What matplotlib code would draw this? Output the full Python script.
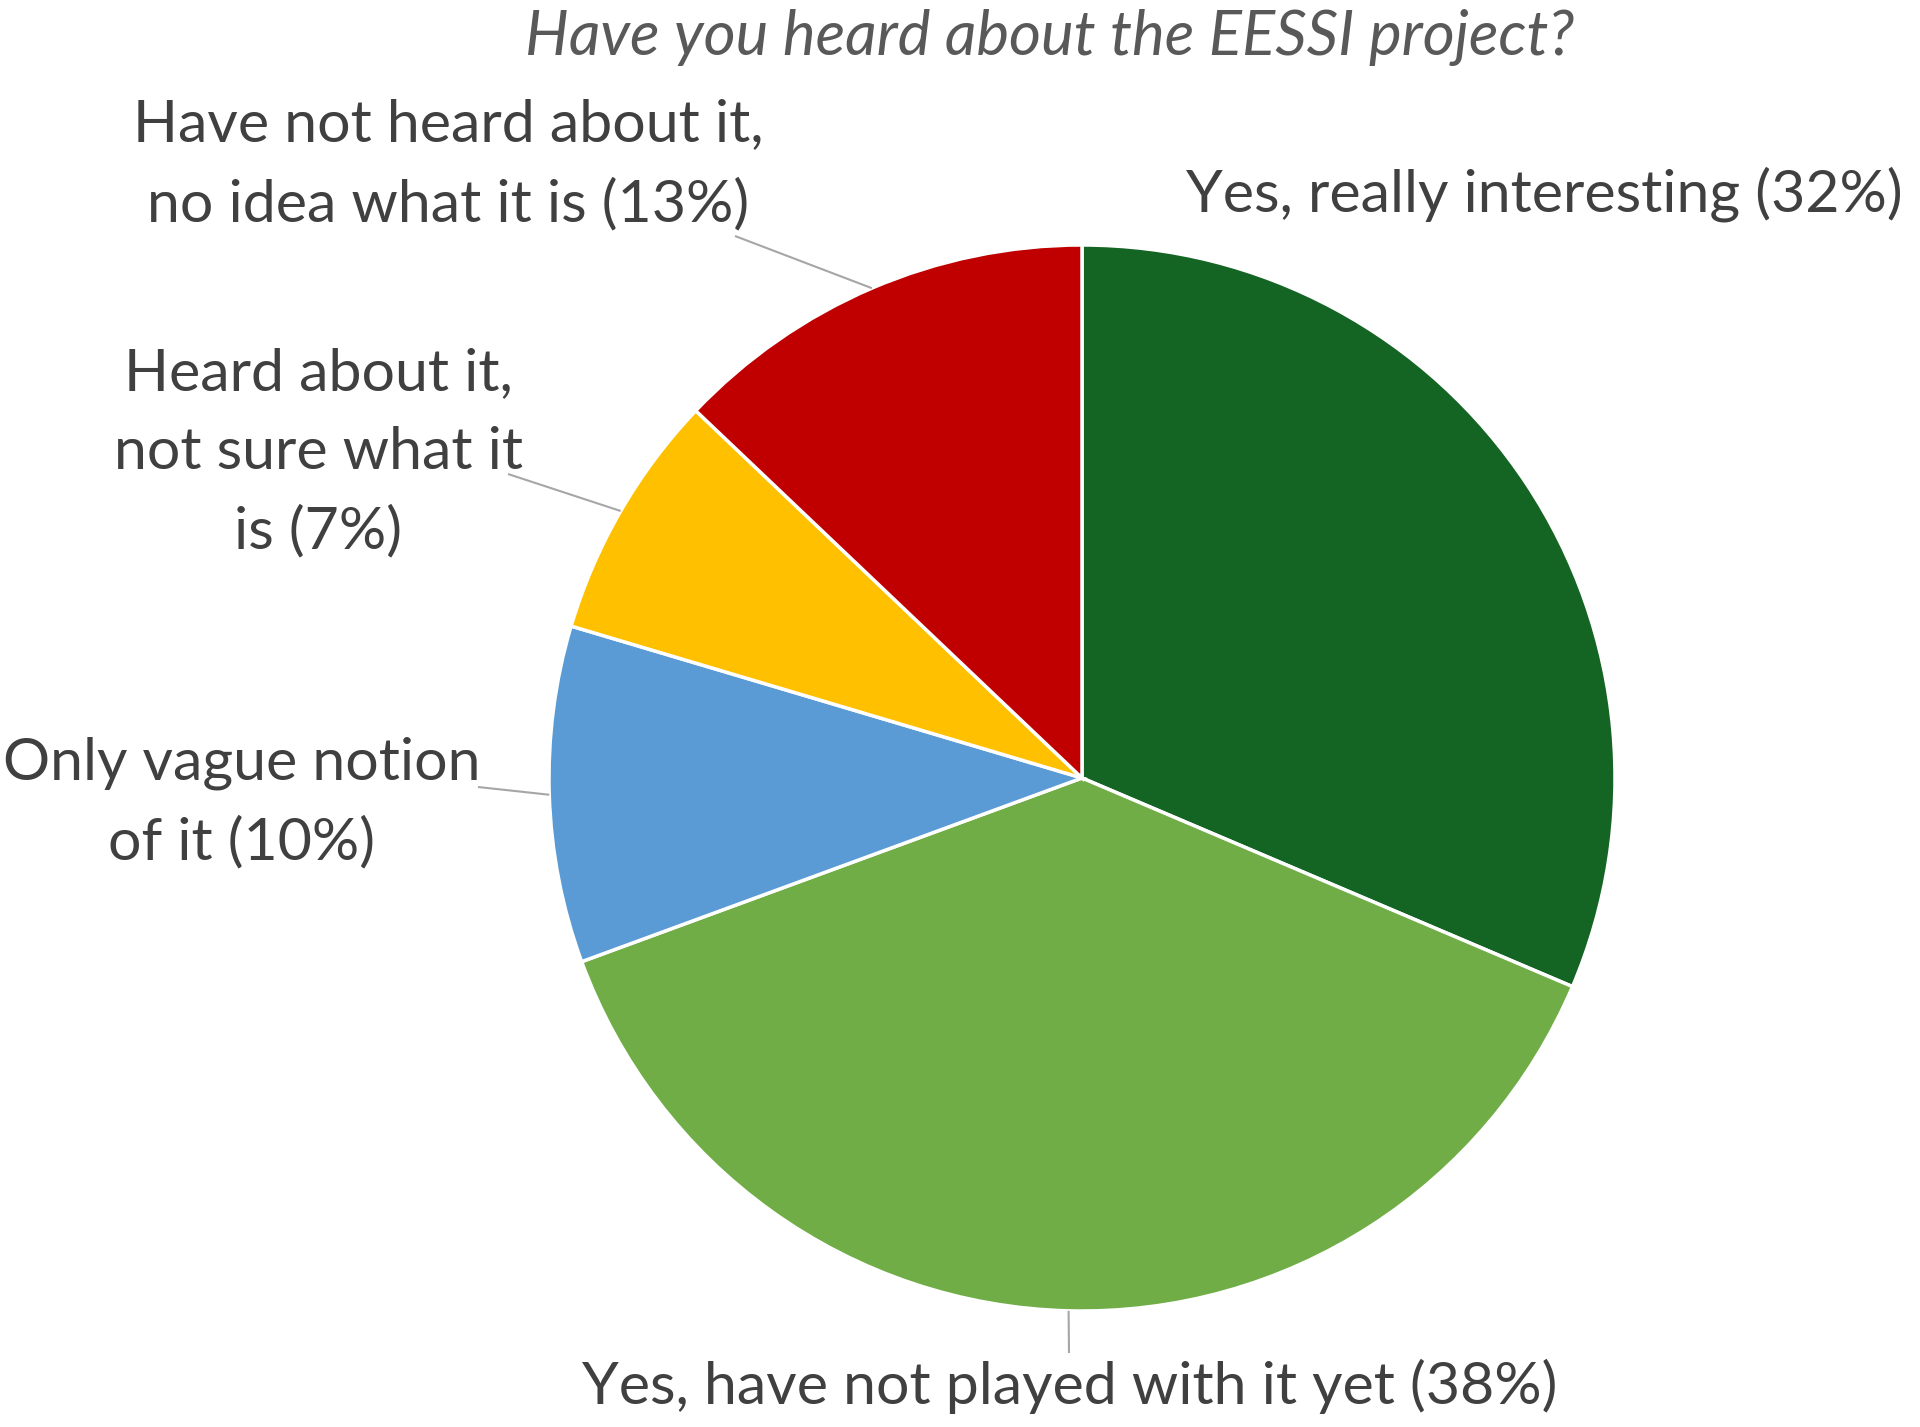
import numpy as np
import matplotlib
matplotlib.use('Agg')
from matplotlib import pyplot as plt

# survey answers, clockwise from 12 o'clock
labels = ['Yes, really interesting (32%)',
          'Yes, have not played with it yet (38%)',
          'Only vague notion\nof it (10%)',
          'Heard about it,\nnot sure what it\nis (7%)',
          'Have not heard about it,\nno idea what it is (13%)']
shares = [31.4, 38.0, 10.2, 7.5, 12.9]
colors = ['#146423', '#70AD47', '#5B9BD5', '#FFC000', '#C00000']

W, H = 1920, 1427
plt.rcParams['font.family'] = ['Lato', 'DejaVu Sans']

fig = plt.figure(figsize=(W / 100, H / 100), dpi=100)
ax = fig.add_axes([0, 0, 1, 1])

cx, cy, r = 1082, H - 778, 533
wedges, _ = ax.pie(shares, colors=colors, startangle=90, counterclock=False,
                   center=(cx, cy), radius=r,
                   wedgeprops=dict(edgecolor='white', linewidth=2.5))
ax.set_xlim(0, W)
ax.set_ylim(0, H)
ax.set_aspect('equal')
ax.axis('off')

# label placement (pixel coords from top-left) and where the leader line ends
label_pos = [(1544, 194), (1070, 1386), (242, 803), (318, 453), (448, 165)]
leader_end = [None, (1069, 1353), (478, 787), (508, 474), (735, 236)]

for w, lab, (tx, ty), le in zip(wedges, labels, label_pos, leader_end):
    ax.text(tx, H - ty, lab, ha='center', va='center', fontsize=42.5,
            color='#404040', linespacing=1.6)
    if le is not None:
        mid = np.deg2rad((w.theta1 + w.theta2) / 2)
        px, py = cx + r * np.cos(mid), cy + r * np.sin(mid)
        ax.plot([px, le[0]], [py, H - le[1]], color='#A6A6A6', lw=1.5,
                solid_capstyle='butt')

ax.text(1050, H - 38, 'Have you heard about the EESSI project?', ha='center',
        va='center', fontsize=44.5, style='italic', color='#595959')

fig.savefig('out.png', dpi=100)
